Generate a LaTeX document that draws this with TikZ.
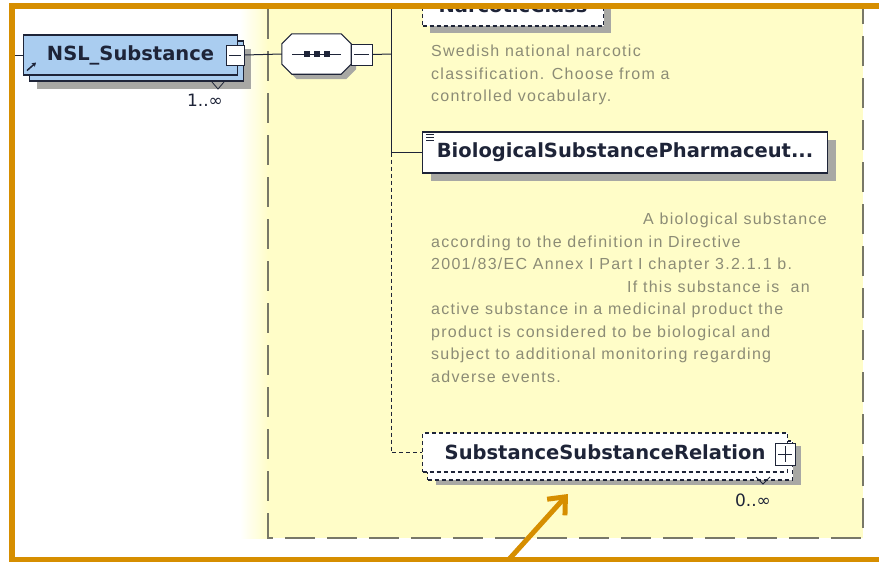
\documentclass[tikz,border=0pt]{standalone}
\usepackage{fontspec}
\setmainfont{DejaVu Sans}
\newfontfamily\notefont[LetterSpace=8]{Liberation Sans}
\usetikzlibrary{arrows.meta,shadows,calc}

\definecolor{frameorange}{RGB}{214,142,0}
\definecolor{groupyellow}{RGB}{255,253,200}
\definecolor{elemblue}{RGB}{170,205,240}
\definecolor{inkdark}{RGB}{30,36,56}
\definecolor{notegray}{RGB}{140,140,118}
\definecolor{shadowgray}{RGB}{168,168,164}
\definecolor{groupline}{RGB}{120,120,104}

\begin{document}
\begin{tikzpicture}[x=1pt, y=-1pt, >=Stealth,
  elem/.style={draw=inkdark, line width=1.1pt, fill=white, text=inkdark,
    font=\bfseries\fontsize{19.5}{22}\selectfont, inner sep=0pt, anchor=west},
  optional/.style={dash pattern=on 4pt off 3pt},
  boxshadow/.style={drop shadow={shadow xshift=#1, shadow yshift=-#1, fill=shadowgray, opacity=1}},
  toggle/.style={draw=inkdark, fill=white, line width=1pt, inner sep=0pt,
    minimum width=18pt, minimum height=20pt,
    path picture={\draw[line width=1pt] ([xshift=3pt]path picture bounding box.west)
      -- ([xshift=-3pt]path picture bounding box.east);}},
  toggleplus/.style={toggle, path picture={
      \draw[line width=1pt] ([xshift=3pt]path picture bounding box.west)
        -- ([xshift=-3pt]path picture bounding box.east);
      \draw[line width=1pt] ([yshift=-3pt]path picture bounding box.north)
        -- ([yshift=3pt]path picture bounding box.south);}},
  note/.style={text=notegray, font=\notefont\fontsize{16}{22.5}\selectfont,
    align=left, anchor=north west, inner sep=0pt},
  occurs/.style={text=inkdark, font=\fontsize{17}{20}\selectfont, inner sep=0pt},
  link/.style={draw=inkdark, line width=1pt}]

\useasboundingbox (0,0) rectangle (879,562);
\fill[white] (0,0) rectangle (879,562);

% sequence group area
\shade[left color=white, right color=groupyellow] (240,9) rectangle (268,538);
\fill[groupyellow] (268,9) rectangle (863,538);
\draw[groupline, line width=1.3pt, dash pattern=on 30pt off 12pt]
  (268,9) -- (268,538) -- (863,538) -- (863,9);

% root element
\node[elem, fill=elemblue, minimum width=214pt, minimum height=40pt,
  drop shadow={shadow xshift=13pt, shadow yshift=-14pt, fill=shadowgray, opacity=1},
  general shadow={shadow xshift=6pt, shadow yshift=-6pt, fill=elemblue, draw=inkdark, line width=1.1pt}]
  (nsl) at (23,55) {NSL\_Substance};
\draw[inkdark, line width=1.5pt, -{Stealth[length=4pt,width=5pt]}]
  ($(nsl.south west)+(4,-5)$) -- ($(nsl.south west)+(13,-13)$);
\node[toggle] (nslMinus) at (235,55) {};
\draw[inkdark, line width=0.8pt] (212,82) -- (218,89) -- (224,82);
\node[occurs] (nslOccurs) at (205,100) {1..∞};

% sequence compositor
\node[minimum width=69pt, minimum height=40pt, inner sep=0pt] (seq) at (316.5,54) {};
\draw[inkdark, line width=1.1pt, fill=white,
  drop shadow={shadow xshift=5pt, shadow yshift=-5pt, fill=shadowgray, opacity=1}]
  ($(seq.north west)+(10,0)$) -- ($(seq.north east)+(-10,0)$) -- ($(seq.north east)+(0,10)$)
  -- ($(seq.south east)+(0,-10)$) -- ($(seq.south east)+(-10,0)$) -- ($(seq.south west)+(10,0)$)
  -- ($(seq.south west)+(0,-10)$) -- ($(seq.north west)+(0,10)$) -- cycle;
\draw[inkdark, line width=1pt] ($(seq.center)+(-24.5,0)$) -- ($(seq.center)+(24.5,0)$);
\foreach \dx in {-10,0,10}
  \fill[inkdark] ($(seq.center)+(\dx,0)+(-3,-3)$) rectangle ++(6,6);
\node[toggle, minimum width=21pt, minimum height=21pt] (seqMinus) at (361.5,54.5) {};
\coordinate (spine) at (391,54);
\coordinate (spineTop) at (391,9);

% child elements
\node[elem, optional, minimum width=181pt, minimum height=42pt, boxshadow=7pt]
  (narc) at (422,5) {NarcoticClass};
\node[note] (narcNote) at (431,45)
  {Swedish national narcotic\\classification. Choose from a\\controlled vocabulary.};

\node[elem, minimum width=405pt, minimum height=41pt, boxshadow=8pt]
  (bio) at (422,152.5) {BiologicalSubstancePharmaceut...};
\foreach \dy in {3,6,9}
  \draw[inkdark, line width=0.8pt] ($(bio.north west)+(4,\dy)$) -- ++(8,0);
\node[note] (bioNote) at (431,213)
  {\hspace*{212pt}A biological substance\\
   according to the definition in Directive\\
   2001/83/EC Annex I Part I chapter 3.2.1.1 b.\\
   \hspace*{196pt}If this substance is\ \ an\\
   active substance in a medicinal product the\\
   product is considered to be biological and\\
   subject to additional monitoring regarding\\
   adverse events.};

\node[elem, optional, minimum width=365pt, minimum height=39pt,
  drop shadow={shadow xshift=13pt, shadow yshift=-13pt, fill=shadowgray, opacity=1},
  general shadow={shadow xshift=5pt, shadow yshift=-8pt, fill=white, draw=inkdark,
    line width=1.1pt, dash pattern=on 4pt off 3pt}]
  (rel) at (422,452.5) {SubstanceSubstanceRelation};
\node[toggleplus, minimum width=20pt, minimum height=22pt] (relPlus) at (785,454) {};
\draw[inkdark, line width=0.8pt] (756,477) -- (763,484) -- (770,477);
\node[occurs] (relOccurs) at (753,500) {0..∞};

% connectors
\coordinate (nslIn) at (15,55);
\draw[link] (nslIn) -- (nsl.west);
\draw[link] (nslMinus.east) -- (seq.west);
\draw[link] (seqMinus.east) -- (spine);
\draw[link] (spineTop) -- (spine |- bio.west) -- (bio.west);
\draw[link, optional] (spine |- bio.west) -- (spine |- rel.west) -- (rel.west);

% frame
\fill[white] (0,0) rectangle (879,3);
\fill[frameorange] (9,3) rectangle (879,9);
\fill[frameorange] (9,3) rectangle (15,562);
\fill[frameorange] (9,557) rectangle (879,562);

% pointer
\coordinate (pointerTail) at (503,566);
\coordinate (pointerTip) at (568,494);
\draw[frameorange, line width=5pt, -{Straight Barb[length=14pt,width=24pt]}]
  (pointerTail) -- (pointerTip);
\end{tikzpicture}
\end{document}
